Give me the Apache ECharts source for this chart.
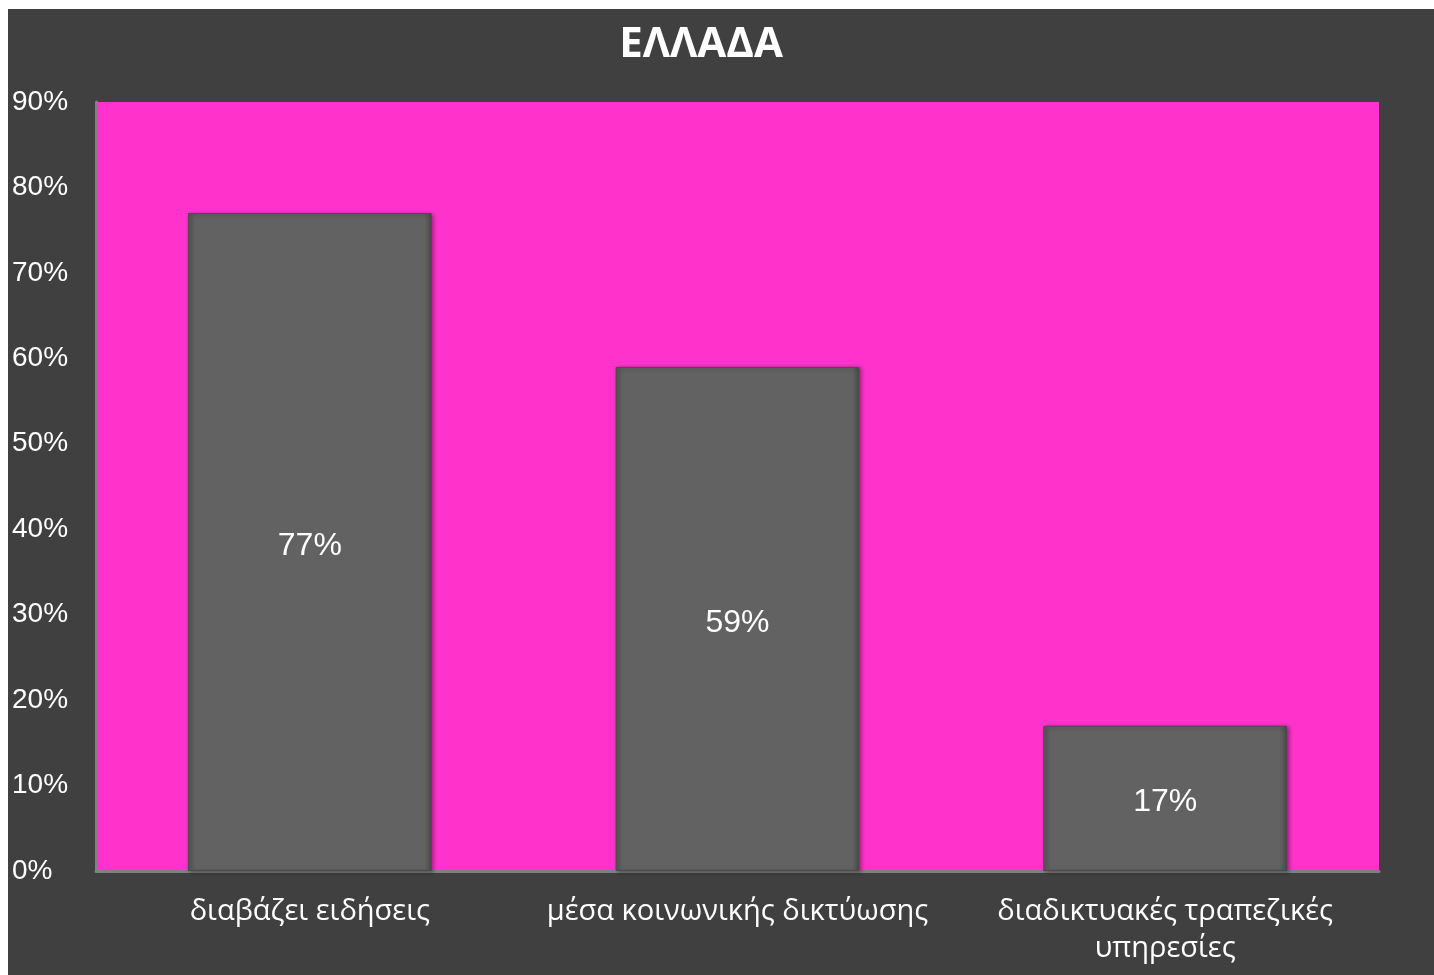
<!DOCTYPE html>
<html>
<head>
<meta charset="utf-8">
<script src="https://cdn.jsdelivr.net/npm/echarts@6/dist/echarts.min.js"></script>
<style>
    html, body { margin: 0; padding: 0; background: #ffffff; overflow: hidden; }
    #chart { position: absolute; left: 8px; top: 9px; width: 1426px; height: 966px; }
</style>
</head>
<body>
<div id="chart"></div>
<script>
// data
const titleText = 'ΕΛΛΑΔΑ'
const categories = ['διαβάζει ειδήσεις', 'μέσα κοινωνικής δικτύωσης', 'διαδικτυακές τραπεζικές υπηρεσίες']
const values = [77, 59, 17]
const yMax = 90
const yStep = 10

// wrap long category names on word boundaries
const wrapLabel = (text, maxChars = 26) => {
    const lines = []
    let cur = ''
    text.split(' ').forEach(w => {
        if (cur && (cur + ' ' + w).length > maxChars) {
            lines.push(cur)
            cur = w
        } else {
            cur = cur ? cur + ' ' + w : w
        }
    })
    if (cur) lines.push(cur)
    return lines.join('\n')
}

const chart = echarts.init(document.getElementById('chart'))

const option = {
    backgroundColor: '#404040',
    animation: false,
    title: {
        text: titleText,
        left: 693,
        textAlign: 'center',
        top: 15,
        padding: 0,
        textStyle: {
            color: '#ffffff',
            fontFamily: 'Open Sans',
            fontWeight: 'bold',
            fontSize: 42
        }
    },
    grid: {
        left: 88,
        right: 55,
        top: 93,
        bottom: 104,
        outerBoundsMode: 'none',
        containLabel: false,
        show: true,
        backgroundColor: '#ff33cc',
        borderWidth: 0
    },
    xAxis: {
        type: 'category',
        data: categories,
        axisLine: { show: true, lineStyle: { color: '#808080', width: 3 } },
        axisTick: { show: false },
        axisLabel: {
            color: '#ffffff',
            fontFamily: 'Open Sans',
            fontSize: 29,
            margin: 22,
            lineHeight: 37,
            interval: 0,
            hideOverlap: false,
            formatter: v => wrapLabel(v)
        }
    },
    yAxis: {
        type: 'value',
        min: 0,
        max: yMax,
        interval: yStep,
        axisLine: { show: true, lineStyle: { color: '#808080', width: 3 } },
        axisTick: { show: false },
        splitLine: { show: false },
        axisLabel: {
            color: '#ffffff',
            fontFamily: 'Liberation Sans',
            fontSize: 28,
            align: 'left',
            margin: 84,
            formatter: '{value}%'
        }
    },
    series: [
        {
            type: 'bar',
            data: values,
            barWidth: '57%',
            itemStyle: {
                color: {
                    type: 'linear', x: 0, y: 0, x2: 1, y2: 0,
                    colorStops: [
                        { offset: 0, color: '#575757' },
                        { offset: 0.03, color: '#626262' },
                        { offset: 0.97, color: '#626262' },
                        { offset: 1, color: '#4a4a4a' }
                    ]
                },
                borderColor: '#4a4a4a',
                borderWidth: 1,
                shadowColor: 'rgba(0,0,0,0.35)',
                shadowBlur: 4,
                shadowOffsetX: 2,
                shadowOffsetY: 1
            },
            label: {
                show: true,
                position: 'inside',
                offset: [0, 4],
                color: '#ffffff',
                fontFamily: 'Liberation Sans',
                fontSize: 32,
                formatter: '{c}%'
            }
        }
    ]
}

chart.setOption(option)
</script>
</body>
</html>
